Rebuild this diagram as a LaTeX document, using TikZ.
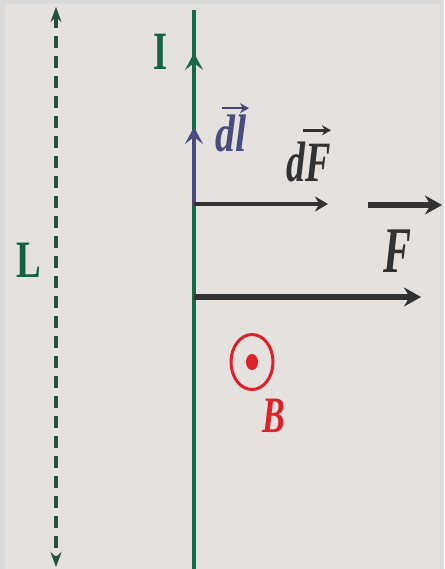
\documentclass[tikz,border=0pt]{standalone}
\usepackage{fontspec}
\setmainfont{Liberation Serif}
\usepackage{tikz}
\usetikzlibrary{shapes.geometric, arrows.meta, positioning}

\definecolor{wiregreen}{RGB}{24,106,70}
\definecolor{labelgreen}{RGB}{20,98,68}
\definecolor{dashgreen}{RGB}{40,80,64}
\definecolor{dlblue}{RGB}{74,76,126}
\definecolor{forcegray}{RGB}{50,50,50}
\definecolor{fieldred}{RGB}{222,32,40}
\definecolor{paper}{RGB}{229,225,223}
\definecolor{frame}{RGB}{218,218,218}

% tall labels, as in the original artwork
\newcommand{\tall}[2]{\scalebox{1}[#1]{#2}}

\begin{document}
\begin{tikzpicture}[x=1pt, y=-1pt,
  lbl/.style={inner sep=0pt, anchor=base},
  wire/.style={line width=4pt},
  chevron/.style={-{Stealth[length=17pt, width=18pt, inset=7pt]}},
  force/.style={forcegray, line width=3.5pt, -{Stealth[length=13pt, width=15pt]}},
  bigforce/.style={forcegray, line width=6pt, -{Stealth[length=17pt, width=19pt]}},
  overarrow/.style={line width=2.6pt, -{Stealth[length=9pt, width=10pt]}}]
  \useasboundingbox (0,0) rectangle (444,569);
  \fill[frame] (0,0) rectangle (444,569);
  \fill[paper] (5,4) rectangle (440,569);

  % length of the wire
  \coordinate (Ltop) at (56,7);
  \coordinate (Lbot) at (56,567);
  \draw[dashgreen, line width=3.5pt, dash pattern=on 12pt off 8pt,
    {Stealth[length=15pt, width=11pt]}-{Stealth[length=15pt, width=11pt]}] (Ltop) -- (Lbot);
  \node (Llbl) [lbl, text=labelgreen] at (29,277)
    {\fontsize{37}{37}\selectfont\bfseries\tall{1.42}{L}};

  % the wire carrying I
  \coordinate (wtop) at (194,10);
  \coordinate (wbot) at (194,569);
  \coordinate (wtip) at (194,53);
  \coordinate (wtail) at (194,95);
  \draw[wiregreen, wire] (wtop) -- (wbot);
  \draw[wiregreen, wire, chevron] (wtail) -- (wtip);
  \node (Ilbl) [lbl, text=labelgreen] at (161,70)
    {\fontsize{36}{36}\selectfont\bfseries\tall{1.5}{I}};

  % element dl
  \coordinate (dlbot) at (194,206);
  \coordinate (dltop) at (194,127);
  \draw[dlblue, wire, chevron] (dlbot) -- (dltop);
  \node (dllbl) [lbl, text=dlblue] at (231,152)
    {\fontsize{40}{40}\selectfont\bfseries\itshape\tall{1.32}{dl}};
  \draw[dlblue!80!forcegray, overarrow] ([xshift=-9pt, yshift=7pt]dllbl.north) -- ([xshift=18pt, yshift=7pt]dllbl.north);

  % force on the element
  \coordinate (dFend) at (328,204);
  \draw[force] (dlbot |- dFend) -- (dFend);
  \node (dFlbl) [lbl, text=forcegray] at (309,182)
    {\fontsize{38}{38}\selectfont\bfseries\itshape\tall{1.5}{dF}};
  \draw[forcegray, overarrow] ([xshift=-6pt, yshift=12pt]dFlbl.north) -- ([xshift=22pt, yshift=12pt]dFlbl.north);

  % total force
  \coordinate (Fstart) at (368,205);
  \coordinate (Fend) at (442,205);
  \draw[bigforce] (Fstart) -- (Fend);
  \node (Flbl) [lbl, text=forcegray] at (397,272)
    {\fontsize{42}{42}\selectfont\bfseries\itshape\tall{1.55}{F}};
  \coordinate (Fwire) at (194,297);
  \coordinate (Ftip) at (421,297);
  \draw[bigforce] (Fwire) -- (Ftip);

  % field out of the page
  \node (Bsym) [draw=fieldred, line width=3pt, ellipse, minimum width=42pt, minimum height=55pt,
    inner sep=0pt] at (252,362) {};
  \fill[fieldred] (Bsym.center) ellipse (6pt and 8pt);
  \node (Blbl) [lbl, text=fieldred] at (274,432)
    {\fontsize{34}{34}\selectfont\bfseries\itshape\tall{1.5}{B}};
\end{tikzpicture}
\end{document}
